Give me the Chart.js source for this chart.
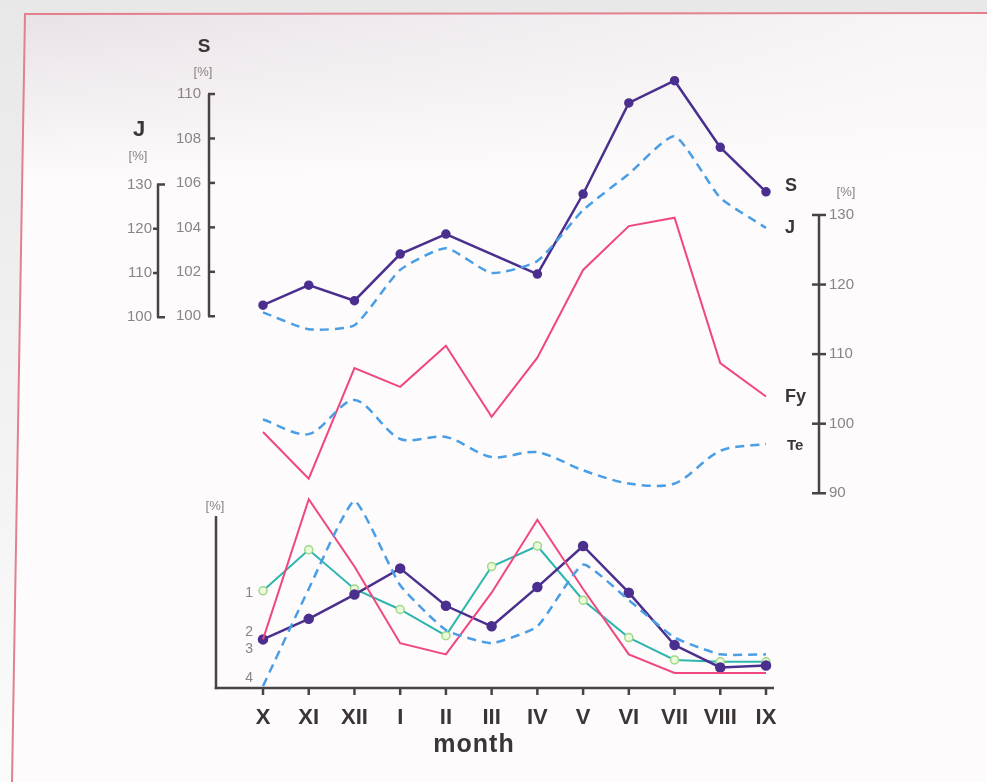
<!DOCTYPE html>
<html>
<head>
<meta charset="utf-8">
<script src="https://cdn.jsdelivr.net/npm/chart.js@4/dist/chart.umd.min.js"></script>
<style>
  html, body { margin: 0; padding: 0; background: #fcfafa; }
  canvas { display: block; }
</style>
</head>
<body>
<canvas id="c" width="987" height="782"></canvas>
<script>
// ---------- data ----------
const months = ['X','XI','XII','I','II','III','IV','V','VI','VII','VIII','IX'];

// upper panel
const sValues  = [100.5, 101.4, 100.7, 102.8, 103.7, null, 101.9, 105.5, 109.6, 110.6, 107.6, 105.6];
const jValues  = [101.1, 97.3, 98.2, 110.7, 115.6, 110.0, 112.7, 124.2, 132.4, 140.9, 127.0, 120.2];
const fyValues = [98.8, 92.1, 108.0, 105.3, 111.2, 101.0, 109.5, 122.1, 128.4, 129.6, 108.7, 103.9];
const teValues = [100.6, 98.5, 103.4, 97.8, 98.1, 95.2, 95.9, 93.3, 91.4, 91.4, 96.1, 97.1];

// lower panel (relative %, unlabeled scale)
const series1 = [52, 74, 53, 42, 28, 65, 76, 47, 27, 15, 14, 14];
const series2 = [26, 37, 50, 64, 44, 33, 54, 76, 51, 23, 11, 12];
const series3 = [26, 101, 65, 24, 18, 51, 90, 53, 18, 8, 8, 8];
const series4 = [1, 53, 100, 55, 31, 24, 33, 66, 47, 27, 18, 18];

// tick labels
const sTicks = [100, 102, 104, 106, 108, 110];
const jTicks = [100, 110, 120, 130];
const rTicks = [90, 100, 110, 120, 130];
const seriesNumbers = ['1', '2', '3', '4'];
const seriesNumberAt = [51, 30, 21, 5];

// ---------- layout helpers ----------
const H = 782;
function fit(v1, p1, v2, p2) {
  const k = (v2 - v1) / (p1 - p2);
  return { min: v1 - (H - p1) * k, max: v1 + p1 * k };
}
const rS = fit(100, 315, 110, 89);
const rJ = fit(100, 316, 130, 181);
const rR = fit(130, 212, 90, 495);
const rB = fit(0, 693, 100, 503);

const PURPLE = '#4b2f8f';
const PINK = '#f0477e';
const BLUE = '#4a9ee6';
const CYAN = '#2fb5b0';
const AXIS = '#4a4343';
const TICKTXT = '#8a8484';
const LABTXT = '#3b3535';
const FONT = '"Liberation Sans", Arial, Helvetica, sans-serif';

const paperPlugin = {
  id: 'paper',
  beforeDraw(chart) {
    const ctx = chart.ctx;
    ctx.save();
    ctx.fillStyle = '#fdfbfb';
    ctx.fillRect(0, 0, 987, 782);
    // faint top shading of the scanned page
    let g = ctx.createLinearGradient(0, 14, 0, 180);
    g.addColorStop(0, 'rgba(232,225,230,1)');
    g.addColorStop(1, 'rgba(232,225,230,0)');
    ctx.fillStyle = g;
    ctx.fillRect(0, 0, 987, 180);
    g = ctx.createLinearGradient(0, 0, 900, 0);
    g.addColorStop(0, 'rgba(253,251,251,0)');
    g.addColorStop(1, 'rgba(253,251,251,0.75)');
    ctx.fillStyle = g;
    ctx.fillRect(0, 0, 987, 180);
    // strip outside frame
    g = ctx.createLinearGradient(0, 0, 0, 782);
    g.addColorStop(0, '#e8e8e8');
    g.addColorStop(1, '#fbfbfb');
    ctx.fillStyle = g;
    ctx.beginPath();
    ctx.moveTo(0, 0); ctx.lineTo(987, 0); ctx.lineTo(987, 12); ctx.lineTo(25, 13);
    ctx.lineTo(12, 782); ctx.lineTo(0, 782); ctx.closePath();
    ctx.fill();
    // frame line
    ctx.strokeStyle = '#e2808f';
    ctx.lineWidth = 2;
    ctx.beginPath();
    ctx.moveTo(12, 782); ctx.lineTo(25, 14); ctx.lineTo(987, 13);
    ctx.stroke();
    ctx.restore();
  },
  beforeDatasetsDraw(chart) {
    const ctx = chart.ctx;
    const sc = chart.scales;
    ctx.save();
    ctx.strokeStyle = AXIS;
    ctx.lineWidth = 2.5;
    ctx.lineCap = 'butt';
    const line = (x1, y1, x2, y2) => { ctx.beginPath(); ctx.moveTo(x1, y1); ctx.lineTo(x2, y2); ctx.stroke(); };

    // S axis
    const xs = 209;
    line(xs, sc.yS.getPixelForValue(sTicks[0]), xs, sc.yS.getPixelForValue(sTicks[sTicks.length - 1]));
    sTicks.forEach(v => { const y = sc.yS.getPixelForValue(v); line(xs - 1, y, xs + 6, y); });
    // J axis
    const xj = 158;
    line(xj, sc.yJ.getPixelForValue(jTicks[0]), xj, sc.yJ.getPixelForValue(jTicks[jTicks.length - 1]));
    jTicks.forEach((v, i) => {
      const y = sc.yJ.getPixelForValue(v);
      if (i === 0 || i === jTicks.length - 1) line(xj - 1, y, xj + 7, y);
      else line(xj - 5, y, xj + 1, y);
    });
    // right axis
    const xr = 819;
    line(xr, sc.yR.getPixelForValue(rTicks[0]), xr, sc.yR.getPixelForValue(rTicks[rTicks.length - 1]));
    rTicks.forEach(v => { const y = sc.yR.getPixelForValue(v); line(xr - 7, y, xr + 7, y); });
    // bottom panel axes
    const xb = 216;
    const y0 = sc.yB.getPixelForValue(0);
    const xEnd = sc.x.getPixelForValue(months.length - 1) + 8;
    line(xb, sc.yB.getPixelForValue(92), xb, y0 + 1.25);
    line(xb - 1.25, y0, xEnd, y0);
    months.forEach((m, i) => { const x = sc.x.getPixelForValue(i); line(x, y0, x, y0 + 7); });
    ctx.restore();
  },
  afterDraw(chart) {
    const ctx = chart.ctx;
    const sc = chart.scales;
    ctx.save();
    ctx.textBaseline = 'middle';
    // tick labels
    ctx.fillStyle = TICKTXT;
    ctx.font = '15px ' + FONT;
    ctx.textAlign = 'right';
    sTicks.forEach(v => ctx.fillText(String(v), 201, sc.yS.getPixelForValue(v)));
    jTicks.forEach(v => ctx.fillText(String(v), 152, sc.yJ.getPixelForValue(v)));
    ctx.textAlign = 'left';
    rTicks.forEach(v => ctx.fillText(String(v), 829, sc.yR.getPixelForValue(v)));
    // units
    ctx.font = '13px ' + FONT;
    ctx.textAlign = 'center';
    ctx.fillText('[%]', 203, 72);
    ctx.fillText('[%]', 138, 156);
    ctx.fillText('[%]', 846, 192);
    ctx.fillText('[%]', 215, 506);
    // axis titles
    ctx.fillStyle = LABTXT;
    ctx.font = 'bold 19px ' + FONT;
    ctx.fillText('S', 204, 47);
    ctx.font = 'bold 22px ' + FONT;
    ctx.fillText('J', 139, 130);
    // series labels at line ends
    const last = months.length - 1;
    const xl = sc.x.getPixelForValue(last) + 19;
    ctx.textAlign = 'left';
    ctx.font = 'bold 18px ' + FONT;
    ctx.fillText('S', xl, sc.yS.getPixelForValue(sValues[last]) - 6);
    ctx.fillText('J', xl, sc.yJ.getPixelForValue(jValues[last]));
    ctx.fillText('Fy', xl, sc.yR.getPixelForValue(fyValues[last]));
    ctx.font = 'bold 15px ' + FONT;
    ctx.fillText('Te', xl + 2, sc.yR.getPixelForValue(teValues[last]) + 2);
    // series numbers in lower panel
    ctx.fillStyle = TICKTXT;
    ctx.font = '14px ' + FONT;
    ctx.textAlign = 'right';
    seriesNumbers.forEach((t, i) => ctx.fillText(t, 253, sc.yB.getPixelForValue(seriesNumberAt[i])));
    // month labels
    ctx.fillStyle = LABTXT;
    ctx.textAlign = 'center';
    ctx.font = 'bold 22px ' + FONT;
    months.forEach((m, i) => ctx.fillText(m, sc.x.getPixelForValue(i), 718));
    ctx.font = 'bold 25px ' + FONT;
    if ('letterSpacing' in ctx) ctx.letterSpacing = '1px';
    ctx.fillText('month', 474, 745);
    ctx.restore();
  }
};

const dashed = [9, 6];
const datasets = [
  { label: 'Te', data: teValues, yAxisID: 'yR', borderColor: BLUE, borderWidth: 2.5, borderDash: dashed,
    tension: 0.3, pointRadius: 0 },
  { label: 'Fy', data: fyValues, yAxisID: 'yR', borderColor: PINK, borderWidth: 2, tension: 0, pointRadius: 0 },
  { label: 'J', data: jValues, yAxisID: 'yJ', borderColor: BLUE, borderWidth: 2.5, borderDash: dashed,
    tension: 0.18, pointRadius: 0 },
  { label: 'S', data: sValues, yAxisID: 'yS', borderColor: PURPLE, borderWidth: 2.5, tension: 0, spanGaps: true,
    pointRadius: 3.5, pointBackgroundColor: PURPLE, pointBorderColor: PURPLE },
  { label: '4', data: series4, yAxisID: 'yB', borderColor: BLUE, borderWidth: 2.5, borderDash: dashed,
    tension: 0.15, pointRadius: 0 },
  { label: '3', data: series3, yAxisID: 'yB', borderColor: PINK, borderWidth: 2, tension: 0, pointRadius: 0 },
  { label: '2', data: series2, yAxisID: 'yB', borderColor: PURPLE, borderWidth: 2.5, tension: 0,
    pointRadius: 4, pointBackgroundColor: PURPLE, pointBorderColor: PURPLE },
  { label: '1', data: series1, yAxisID: 'yB', borderColor: CYAN, borderWidth: 2, tension: 0,
    pointRadius: 4, pointBackgroundColor: '#ecfadc', pointBorderColor: '#9fd886', pointBorderWidth: 1.5 }
].map(d => Object.assign({ fill: false, clip: false }, d));

new Chart(document.getElementById('c'), {
  type: 'line',
  data: { labels: months, datasets },
  options: {
    responsive: false,
    devicePixelRatio: 1,
    animation: false,
    events: [],
    layout: { padding: { left: 263, right: 221, top: 0, bottom: 0 } },
    plugins: { legend: { display: false }, tooltip: { enabled: false }, title: { display: false } },
    scales: {
      x: { type: 'category', display: false, offset: false },
      yS: { type: 'linear', display: false, min: rS.min, max: rS.max },
      yJ: { type: 'linear', display: false, min: rJ.min, max: rJ.max },
      yR: { type: 'linear', display: false, min: rR.min, max: rR.max },
      yB: { type: 'linear', display: false, min: rB.min, max: rB.max }
    }
  },
  plugins: [paperPlugin]
});
</script>
</body>
</html>
